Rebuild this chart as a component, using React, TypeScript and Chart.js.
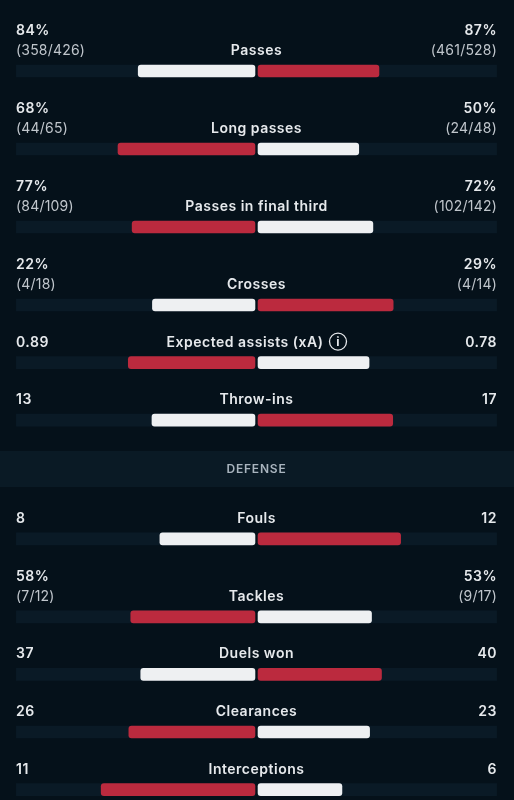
import React, { useEffect, useRef } from "react";
import { Chart, registerables } from "chart.js";

Chart.register(...registerables);

const labels = ["Passes", "Long passes", "Passes in final third", "Crosses", "Expected assists (xA)", "Throw-ins", "Fouls", "Tackles", "Duels won", "Clearances", "Interceptions"];
const leftValues = [84, 68, 77, 22, 0.89, 13, 8, 58, 37, 26, 11];
const rightValues = [87, 50, 72, 29, 0.78, 17, 12, 53, 40, 23, 6];
const leftText = ["84%", "68%", "77%", "22%", "0.89", "13", "8", "58%", "37", "26", "11"];
const rightText = ["87%", "50%", "72%", "29%", "0.78", "17", "12", "53%", "40", "23", "6"];
const leftDetail = ["(358/426)", "(44/65)", "(84/109)", "(4/18)", "", "", "", "(7/12)", "", "", ""];
const rightDetail = ["(461/528)", "(24/48)", "(102/142)", "(4/14)", "", "", "", "(9/17)", "", "", ""];
const sectionTitle = "DEFENSE";
const sectionStartIndex = 6;

// layout
const W = 514, H = 800;
const BG = "#05111a", TRACK = "#0a1a26", BAND = "#0a1a25", RED = "#bb2a3e", LIGHT = "#eef0f2";
const TEXT = "#e6e9ec", SUB = "#c0c6cc", SECTION = "#a9b4be";
const FONT = "Inter, 'Noto Sans', sans-serif";
const GAP = 0.65, FULL = 100.4;

const rowY: number[] = [];
{
  let y = 71;
  labels.forEach((_, i) => {
    if (i > 0) {
      y += leftDetail[i] ? 78 : 57.6;
      if (i === sectionStartIndex) y += 61;
    }
    rowY.push(y);
  });
}
const share = (i: number, v: number) => (v / (leftValues[i] + rightValues[i])) * 100;
const larger = (a: number, b: number) => (a > b ? RED : LIGHT);

const textPlugin = {
  id: "rowText",
  beforeDraw(chart: any) {
    const { ctx, scales } = chart;
    ctx.save();
    ctx.fillStyle = BG;
    ctx.fillRect(0, 0, W, H);
    const bandMid = scales.y.getPixelForValue(469);
    ctx.fillStyle = BAND;
    ctx.fillRect(0, bandMid - 18, W, 36);
    ctx.restore();
  },
  afterDraw(chart: any) {
    const { ctx, scales } = chart;
    const put = (s: string, x: number, y: number, font: string, color: string, align: CanvasTextAlign, sp = "0.5px") => {
      ctx.font = font;
      ctx.fillStyle = color;
      ctx.textAlign = align;
      ctx.textBaseline = "alphabetic";
      (ctx as any).letterSpacing = sp;
      ctx.fillText(s, x, y);
    };
    ctx.save();
    const mid = 256.5;
    labels.forEach((label, i) => {
      const y = scales.y.getPixelForValue(rowY[i]);
      const two = !!leftDetail[i];
      const topY = y - (two ? 36 : 16);
      put(leftText[i], 16, topY, `600 14px ${FONT}`, TEXT, "left", "0.5px");
      put(rightText[i], 497, topY, `600 14px ${FONT}`, TEXT, "right", "0.5px");
      if (two) {
        put(leftDetail[i], 16, y - 16, `400 14px ${FONT}`, SUB, "left", "0.2px");
        put(rightDetail[i], 497, y - 16, `400 14px ${FONT}`, SUB, "right", "0.2px");
      }
      if (label.includes("(xA)")) {
        put(label, mid - 11.5, y - 16, `600 14px ${FONT}`, TEXT, "center");
        ctx.strokeStyle = TEXT;
        ctx.lineWidth = 1.3;
        ctx.beginPath();
        ctx.arc(338, y - 21, 8.5, 0, Math.PI * 2);
        ctx.stroke();
        put("i", 338, y - 16.5, `700 12px ${FONT}`, TEXT, "center", "0px");
      } else {
        put(label, mid, y - 16, `600 14px ${FONT}`, TEXT, "center");
      }
    });
    put(sectionTitle, mid, scales.y.getPixelForValue(473), `600 12px ${FONT}`, SECTION, "center", "0.8px");
    ctx.restore();
  },
};

export default function App() {
  const ref = useRef<HTMLCanvasElement>(null);
  useEffect(() => {
    document.body.style.margin = "0";
    document.body.style.background = BG;
    const chart = new Chart(ref.current!, {
      type: "bar",
      data: {
        datasets: [
          {
            label: "Left track",
            data: rowY.map((y) => ({ y, x: [-GAP, -FULL - GAP] })),
            backgroundColor: TRACK,
            order: 3,
          },
          {
            label: "Right track",
            data: rowY.map((y) => ({ y, x: [GAP, FULL + GAP] })),
            backgroundColor: TRACK,
            order: 3,
          },
          {
            label: "Home",
            data: rowY.map((y, i) => ({ y, x: [-GAP, -share(i, leftValues[i]) - GAP] })),
            backgroundColor: leftValues.map((v, i) => larger(v, rightValues[i])),
            borderRadius: 3,
            order: 1,
          },
          {
            label: "Away",
            data: rowY.map((y, i) => ({ y, x: [GAP, share(i, rightValues[i]) + GAP] })),
            backgroundColor: rightValues.map((v, i) => larger(v, leftValues[i])),
            borderRadius: 3,
            order: 1,
          },
        ] as any,
      },
      options: {
        indexAxis: "y",
        animation: false,
        responsive: false,
        layout: { padding: { left: 16, right: 17, top: 0, bottom: 0 } },
        datasets: { bar: { barThickness: 12, grouped: false, borderSkipped: false } } as any,
        plugins: { legend: { display: false }, tooltip: { enabled: false } },
        scales: {
          x: { type: "linear", min: -101.2, max: 101.2, display: false },
          y: { type: "linear", min: 0, max: H, reverse: true, offset: false, display: false },
        },
      },
      plugins: [textPlugin],
    } as any);
    return () => chart.destroy();
  }, []);
  return (
    <div style={{ width: W, height: H }}>
      <canvas ref={ref} width={W} height={H} style={{ display: "block" }} />
    </div>
  );
}
